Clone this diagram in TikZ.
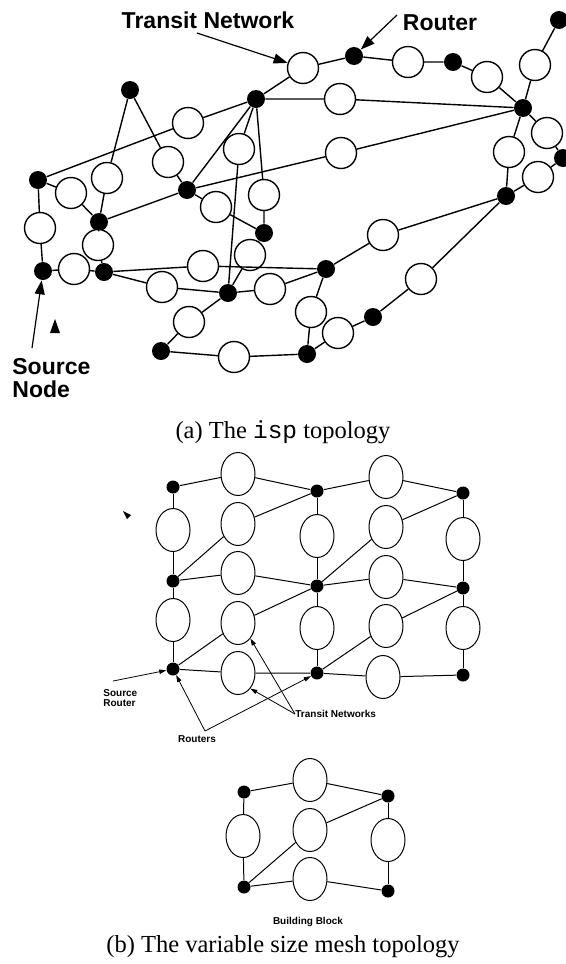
\documentclass[tikz,border=0pt]{standalone}
\usepackage{fontspec}
\setmainfont{Liberation Serif}
\setsansfont{Liberation Sans}
\setmonofont{Liberation Mono}
\usetikzlibrary{shapes.geometric,arrows.meta}

\begin{document}
\begin{tikzpicture}[x=0.5pt, y=-0.5pt,
    router/.style={circle, fill=black, inner sep=0pt, minimum size=9pt},
    net/.style={circle, draw, fill=white, line width=0.7pt, inner sep=0pt, minimum size=15.5pt},
    link/.style={line width=0.7pt},
    bigtag/.style={font=\fontsize{11.5}{11.5}\selectfont\sffamily\bfseries, inner sep=0pt},
    bigarrow/.style={line width=0.6pt, -{Triangle[length=7pt,width=5pt]}},
    mdot/.style={circle, fill=black, inner sep=0pt, minimum size=6.5pt},
    lan/.style={ellipse, draw, fill=white, line width=0.5pt, inner sep=0pt, minimum width=17pt, minimum height=21.5pt},
    thinlink/.style={line width=0.5pt},
    smalltag/.style={font=\fontsize{5}{5}\selectfont\sffamily\bfseries, inner sep=0pt},
    smallarrow/.style={line width=0.4pt, -{Triangle[length=3.5pt,width=2.2pt]}},
    capt/.style={font=\fontsize{12.25}{14}\selectfont, inner sep=0pt}
  ]
    \useasboundingbox (0,0) rectangle (566,964);

    % (a) routers
    \node [router] (ra) at (130,90) {};
    \node [router] (rb) at (256,99) {};
    \node [router] (rc) at (354,56) {};
    \node [router] (rd) at (453,62) {};
    \node [router] (re) at (559,20) {};
    \node [router] (rf) at (523,108) {};
    \node [router] (rg) at (563,158) {};
    \node [router] (rh) at (506,196) {};
    \node [router] (ri) at (38,180) {};
    \node [router] (rj) at (187,190) {};
    \node [router] (rk) at (99,222) {};
    \node [router] (rl) at (264,233) {};
    \node [router] (rm) at (43,271) {};
    \node [router] (rn) at (104,272) {};
    \node [router] (ro) at (228,293) {};
    \node [router] (rp) at (326,269) {};
    \node [router] (rq) at (373,317) {};
    \node [router] (rr) at (161,351) {};
    \node [router] (rs) at (307,354) {};

    % (a) transit networks
    \node [net] (n1) at (303,68) {};
    \node [net] (n2) at (408,62) {};
    \node [net] (n3) at (487,77) {};
    \node [net] (n4) at (535,65) {};
    \node [net] (n5) at (188,123) {};
    \node [net] (n6) at (340,99) {};
    \node [net] (n7) at (239,149) {};
    \node [net] (n8) at (168,162) {};
    \node [net] (n9) at (107,178) {};
    \node [net] (n10) at (71,193) {};
    \node [net] (n11) at (264,195) {};
    \node [net] (n12) at (341,153) {};
    \node [net] (n13) at (547,133) {};
    \node [net] (n14) at (509,152) {};
    \node [net] (n15) at (538,177) {};
    \node [net] (n16) at (216,207) {};
    \node [net] (n17) at (40,228) {};
    \node [net] (n18) at (98,245) {};
    \node [net] (n19) at (250,255) {};
    \node [net] (n20) at (74,269) {};
    \node [net] (n21) at (203,266) {};
    \node [net] (n22) at (162,287) {};
    \node [net] (n23) at (270,289) {};
    \node [net] (n24) at (383,235) {};
    \node [net] (n25) at (421,279) {};
    \node [net] (n26) at (311,312) {};
    \node [net] (n27) at (189,322) {};
    \node [net] (n28) at (338,333) {};
    \node [net] (n29) at (234,357) {};

    % (a) links
    \draw [link] (rb) -- (n1) -- (rc) -- (n2) -- (rd) -- (n3) -- (rf);
    \draw [link] (rf) -- (n4) -- (re);
    \draw [link] (rb) -- (n6) -- (rf);
    \draw [link] (rj) -- (n12) -- (rf);
    \draw [link] (rf) -- (n13) -- (rg) -- (n15) -- (rh);
    \draw [link] (rf) -- (n14) -- (rh);
    \draw [link] (rh) -- (n24) -- (rp);
    \draw [link] (rh) -- (n25) -- (rq) -- (n28) -- (rs);
    \draw [link] (rp) -- (n26) -- (rs);
    \draw [link] (rn) -- (n21) -- (rp);
    \draw [link] (ro) -- (n23) -- (rp);
    \draw [link] (ri) -- (n5) -- (rb);
    \draw [link] (rb) -- (rj);
    \draw [link] (rb) -- (n7) -- (ro);
    \draw [link] (rb) -- (n11) -- (rl);
    \draw [link] (ra) -- (n9) -- (rk);
    \draw [link] (ra) -- (n8) -- (rj);
    \draw [link] (rk) -- (rj);
    \draw [link] (rj) -- (n16) -- (rl);
    \draw [link] (ri) -- (n10) -- (rk);
    \draw [link] (ri) -- (n17) -- (rm) -- (n20) -- (rn);
    \draw [link] (rk) -- (n18) -- (rn);
    \draw [link] (rn) -- (n22) -- (ro);
    \draw [link] (ro) -- (n19) -- (rl);
    \draw [link] (ro) -- (n27) -- (rr) -- (n29) -- (rs);

    % (a) labels
    \node [bigtag] (tnlabel) at (208,20) {Transit Network};
    \node [bigtag] (rtlabel) at (440,23) {Router};
    \node [bigtag, align=left, anchor=north west] (snlabel) at (12,358) {Source\\Node};
    \coordinate (tntail) at (197,33);
    \coordinate (rttail) at (397,15);
    \coordinate (sntail) at (32,348);
    \draw [bigarrow] (tntail) -- (n1);
    \draw [bigarrow] (rttail) -- (rc);
    \draw [bigarrow] (sntail) -- (rm);
    \fill (50,333) -- (55,319) -- (60,333) -- cycle;
    \node [capt] (capa) at (283,432) {(a) The \texttt{isp} topology};

    % (b) mesh routers
    \node [mdot] (m11) at (173,487) {};
    \node [mdot] (m12) at (317,491) {};
    \node [mdot] (m13) at (463,493) {};
    \node [mdot] (m21) at (173,581) {};
    \node [mdot] (m22) at (317,586) {};
    \node [mdot] (m23) at (463,588) {};
    \node [mdot] (m31) at (173,669) {};
    \node [mdot] (m32) at (317,673) {};
    \node [mdot] (m33) at (463,675) {};

    % (b) mesh transit networks
    \node [lan] (h11) at (238,474) {};
    \node [lan] (h12) at (386,477) {};
    \node [lan] (d11) at (238,524) {};
    \node [lan] (d12) at (386,527) {};
    \node [lan] (h21) at (238,573) {};
    \node [lan] (h22) at (386,577) {};
    \node [lan] (d21) at (238,623) {};
    \node [lan] (d22) at (386,626) {};
    \node [lan] (h31) at (238,673) {};
    \node [lan] (h32) at (383,677) {};
    \node [lan] (v11) at (173,530) {};
    \node [lan] (v12) at (317,536) {};
    \node [lan] (v13) at (463,539) {};
    \node [lan] (v21) at (173,620) {};
    \node [lan] (v22) at (317,628) {};
    \node [lan] (v23) at (463,628) {};

    % (b) mesh links
    \draw [thinlink] (m11) -- (h11) -- (m12) -- (h12) -- (m13);
    \draw [thinlink] (m21) -- (h21) -- (m22) -- (h22) -- (m23);
    \draw [thinlink] (m31) -- (h31) -- (m32) -- (h32) -- (m33);
    \draw [thinlink] (m21) -- (d11) -- (m12);
    \draw [thinlink] (m22) -- (d12) -- (m13);
    \draw [thinlink] (m31) -- (d21) -- (m22);
    \draw [thinlink] (m32) -- (d22) -- (m23);
    \draw [thinlink] (m11) -- (v11) -- (m21) -- (v21) -- (m31);
    \draw [thinlink] (m12) -- (v12) -- (m22) -- (v22) -- (m32);
    \draw [thinlink] (m13) -- (v13) -- (m23) -- (v23) -- (m33);

    % (b) labels
    \node [smalltag, align=left, anchor=west] (srlabel) at (103,698) {Source\\Router};
    \node [smalltag, anchor=west] (tnslabel) at (295,714) {Transit Networks};
    \node [smalltag] (rslabel) at (197,739) {Routers};
    \coordinate (srtail) at (113,681);
    \coordinate (rstail) at (205,731);
    \draw [smallarrow] (srtail) -- (m31);
    \draw [smallarrow] (tnslabel.west) -- (h31.south east);
    \draw [smallarrow] (tnslabel.west) -- (d21.south east);
    \draw [smallarrow] (rstail) -- (m31);
    \draw [smallarrow] (rstail) -- (m32);
    \fill (123,511) -- (131,515) -- (127,519) -- cycle;

    % building block
    \node [mdot] (k1) at (244,792) {};
    \node [mdot] (k2) at (388,796) {};
    \node [mdot] (k3) at (244,887) {};
    \node [mdot] (k4) at (388,891) {};
    \node [lan] (q1) at (310,780) {};
    \node [lan] (q2) at (310,830) {};
    \node [lan] (q3) at (310,879) {};
    \node [lan] (q4) at (243,836) {};
    \node [lan] (q5) at (388,840) {};
    \draw [thinlink] (k1) -- (q1) -- (k2);
    \draw [thinlink] (k3) -- (q2) -- (k2);
    \draw [thinlink] (k3) -- (q3) -- (k4);
    \draw [thinlink] (k1) -- (q4) -- (k3);
    \draw [thinlink] (k2) -- (q5) -- (k4);
    \node [smalltag] (bblabel) at (308,922) {Building Block};
    \node [capt] (capb) at (283,947) {(b) The variable size mesh topology};
\end{tikzpicture}
\end{document}
